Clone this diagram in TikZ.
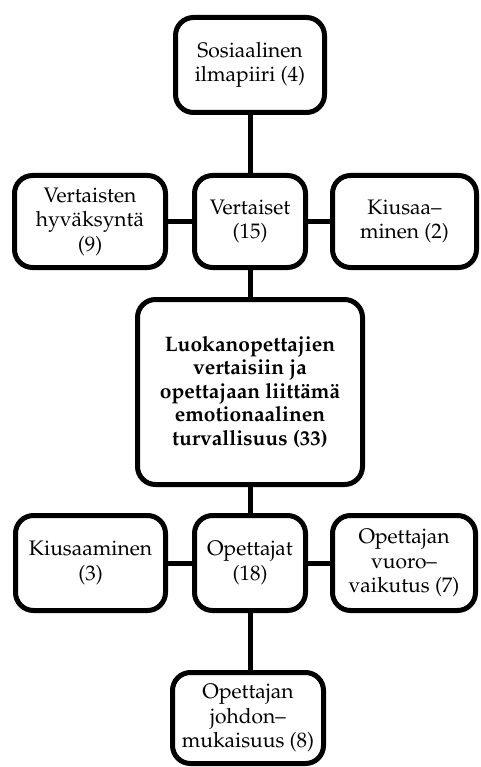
\documentclass[tikz,border=0pt]{standalone}
\usepackage[T1]{fontenc}
\usepackage{mathpazo}
\begin{document}
\begin{tikzpicture}[x=1pt,y=-1pt,
  box/.style={draw, line width=5pt, rounded corners=18pt, align=center,
    inner sep=0pt, font=\fontsize{21}{24.5}\selectfont},
  link/.style={line width=5pt}]
\useasboundingbox (0,0) rectangle (480,767);
% top level
\node[box, minimum width=149pt, minimum height=95pt] (ilma) at (250,65)
  {Sosiaalinen\\ilmapiiri (4)};
% peers row
\node[box, minimum width=151pt, minimum height=92pt] (hyv) at (90,221.5)
  {Vertaisten\\hyv\"aksynt\"a\\(9)};
\node[box, minimum width=111pt, minimum height=92pt] (vert) at (250,221.5)
  {Vertaiset\\(15)};
\node[box, minimum width=144pt, minimum height=92pt] (kius1) at (404.5,221.5)
  {Kiusaa--\\minen (2)};
% central theme
\node[box, minimum width=225pt, minimum height=185pt,
  font=\fontsize{21}{23.5}\selectfont\bfseries] (main) at (250,392)
  {Luokanopettajien\\vertaisiin ja\\opettajaan liitt\"am\"a\\emotionaalinen\\turvallisuus (33)};
% teachers row
\node[box, minimum width=150pt, minimum height=95pt] (kius2) at (90.5,563)
  {Kiusaaminen\\(3)};
\node[box, minimum width=111pt, minimum height=95pt] (opet) at (250,563)
  {Opettajat\\(18)};
\node[box, minimum width=143pt, minimum height=95pt] (vuoro) at (404,563)
  {Opettajan\\vuoro--\\vaikutus (7)};
% bottom
\node[box, minimum width=151pt, minimum height=91pt] (johd) at (248,718)
  {Opettajan\\johdon--\\mukaisuus (8)};
% connectors
\draw[link] (ilma.south) -- (vert.north);
\draw[link] (hyv.east) -- (vert.west);
\draw[link] (vert.east) -- (kius1.west);
\draw[link] (vert.south) -- (main.north);
\draw[link] (main.south) -- (opet.north);
\draw[link] (kius2.east) -- (opet.west);
\draw[link] (opet.east) -- (vuoro.west);
\draw[link] (opet.south) -- (johd.north -| opet.south);
\end{tikzpicture}
\end{document}
